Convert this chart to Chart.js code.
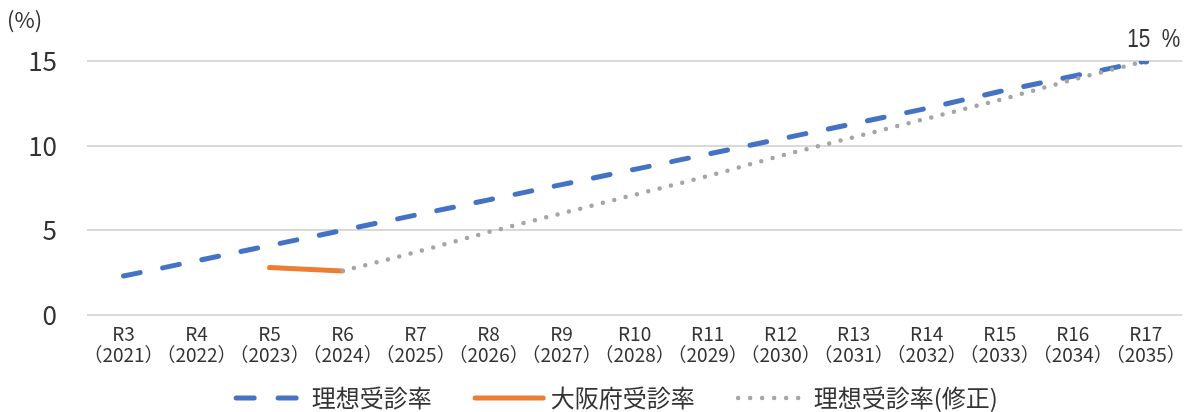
<!DOCTYPE html>
<html lang="ja">
<head>
<meta charset="utf-8">
<title>受診率の推移</title>
<script src="https://cdn.jsdelivr.net/npm/chart.js@4/dist/chart.umd.min.js"></script>
<style>
  html, body { margin: 0; padding: 0; background: #ffffff; }
  #wrap { width: 1194px; height: 412px; }
</style>
</head>
<body>
<div id="wrap"><canvas id="chart" width="1194" height="412"></canvas></div>
<script>
// Fiscal years (Reiwa era) and their western-calendar equivalents
const eraLabels  = ['R3', 'R4', 'R5', 'R6', 'R7', 'R8', 'R9', 'R10', 'R11', 'R12', 'R13', 'R14', 'R15', 'R16', 'R17'];
const yearLabels = ['（2021）', '（2022）', '（2023）', '（2024）', '（2025）', '（2026）', '（2027）', '（2028）',
                    '（2029）', '（2030）', '（2031）', '（2032）', '（2033）', '（2034）', '（2035）'];

// Screening rates (%)
const idealRate   = [2.3, 3.2, 4.1, 5.0, 5.9, 6.8, 7.7, 8.6, 9.5, 10.4, 11.3, 12.2, 13.2, 14.1, 15.0];
const osakaRate   = [null, null, 2.8, 2.6, null, null, null, null, null, null, null, null, null, null, null];
const revisedRate = [null, null, null, 2.6, 3.7, 4.9, 6.0, 7.1, 8.2, 9.4, 10.5, 11.6, 12.7, 13.9, 15.0];

const seriesNames = ['理想受診率', '大阪府受診率', '理想受診率(修正)'];
const yTicks = [0, 5, 10, 15];

const categories = eraLabels.map((era, i) => [era, yearLabels[i]]);
const lastIndex = idealRate.length - 1;

const CJK = '"Noto Sans CJK JP", "Noto Sans", sans-serif';
const TEXT = '#333333';

// Unit caption and the value label at the end of the target line
const annotations = {
  id: 'annotations',
  afterDatasetsDraw(chart) {
    const { ctx } = chart;
    ctx.save();
    ctx.fillStyle = TEXT;
    ctx.font = '22px ' + CJK;
    ctx.textAlign = 'left';
    ctx.textBaseline = 'middle';
    ctx.fillText('(%)', 7, 20);

    // condensed value label above the final point
    const pt = chart.getDatasetMeta(0).data[lastIndex];
    const squeeze = 0.8;
    ctx.font = '26px "Liberation Sans", "DejaVu Sans", sans-serif';
    ctx.textAlign = 'center';
    ctx.textBaseline = 'alphabetic';
    ctx.translate(pt.x + 8, pt.y - 14);
    ctx.scale(squeeze, 1);
    ctx.fillText(idealRate[lastIndex] + '  %', 0, 0);
    ctx.restore();
  }
};

// Single-row legend under the axis, using each dataset's own line style
const legendRow = {
  id: 'legendRow',
  afterDraw(chart, args, opts) {
    const { ctx } = chart;
    ctx.save();
    ctx.font = opts.fontSize + 'px ' + CJK;
    const sets = chart.data.datasets;
    const widths = sets.map(ds => opts.lineLength + opts.textGap + ctx.measureText(ds.label).width);
    const total = widths.reduce((a, b) => a + b, 0) + opts.itemGap * (sets.length - 1);
    let x = opts.centerX - total / 2;
    const y = opts.y;
    sets.forEach((ds, i) => {
      ctx.beginPath();
      ctx.lineWidth = ds.borderWidth;
      ctx.strokeStyle = ds.borderColor;
      ctx.lineCap = ds.borderCapStyle || 'butt';
      ctx.setLineDash(opts.dashes[i] || []);
      ctx.moveTo(x, y);
      ctx.lineTo(x + opts.lineLength, y);
      ctx.stroke();
      ctx.setLineDash([]);
      ctx.fillStyle = TEXT;
      ctx.textAlign = 'left';
      ctx.textBaseline = 'middle';
      ctx.fillText(ds.label, x + opts.lineLength + opts.textGap, y);
      x += widths[i] + opts.itemGap;
    });
    ctx.restore();
  }
};

new Chart(document.getElementById('chart'), {
  type: 'line',
  data: {
    labels: categories,
    datasets: [
      {
        label: seriesNames[0],
        data: idealRate,
        borderColor: '#4472C4',
        backgroundColor: '#4472C4',
        borderWidth: 5,
        borderDash: [17, 23],
        borderCapStyle: 'round',
        pointRadius: idealRate.map((v, i) => (i === lastIndex ? 3.5 : 0)),
        pointBackgroundColor: '#4472C4',
        pointBorderWidth: 0,
        order: 3
      },
      {
        label: seriesNames[1],
        data: osakaRate,
        borderColor: '#ED7D31',
        backgroundColor: '#ED7D31',
        borderWidth: 5,
        borderCapStyle: 'round',
        pointRadius: 0,
        order: 2
      },
      {
        label: seriesNames[2],
        data: revisedRate,
        borderColor: '#A5A5A5',
        backgroundColor: '#A5A5A5',
        borderWidth: 4.5,
        borderDash: [0, 11.7],
        borderCapStyle: 'round',
        pointRadius: 0,
        order: 1
      }
    ]
  },
  options: {
    responsive: false,
    animation: false,
    spanGaps: false,
    layout: { padding: { top: 61, right: 5, bottom: 48, left: 0 } },
    scales: {
      x: {
        offset: true,
        grid: { display: false, drawTicks: false },
        border: { display: false },
        ticks: {
          autoSkip: false,
          maxRotation: 0,
          padding: 8,
          color: TEXT,
          font: { family: CJK, size: 19, lineHeight: 1.1 }
        },
        afterFit(scale) { scale.height = 49; }
      },
      y: {
        min: yTicks[0],
        max: yTicks[yTicks.length - 1],
        afterBuildTicks(scale) { scale.ticks = yTicks.map(v => ({ value: v })); },
        grid: { color: '#D9D9D9', lineWidth: 2, drawTicks: false },
        border: { display: false },
        ticks: {
          padding: 30,
          color: TEXT,
          font: { family: CJK, size: 26 }
        },
        afterFit(scale) { scale.width = 87; }
      }
    },
    plugins: {
      legend: { display: false },
      tooltip: { enabled: false },
      legendRow: {
        fontSize: 24,
        lineLength: 68,
        textGap: 7.5,
        itemGap: 43.5,
        centerX: 617,
        y: 398,
        dashes: [[18, 24], [], [0, 12]]
      }
    }
  },
  plugins: [annotations, legendRow]
});
</script>
</body>
</html>
